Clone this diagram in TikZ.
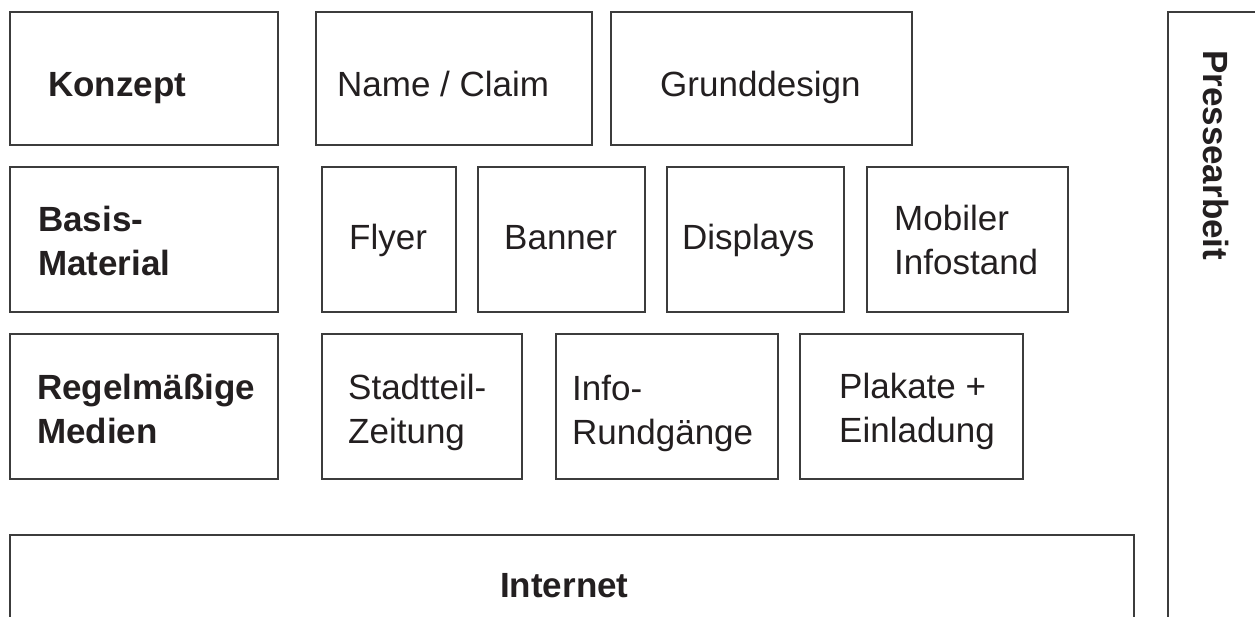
\documentclass[tikz,border=0pt]{standalone}
\usepackage{fontspec}
\setmainfont{Liberation Sans}
\definecolor{linec}{HTML}{3C3C3C}
\definecolor{txtc}{HTML}{231F20}
\begin{document}
\begin{tikzpicture}[x=1pt,y=-1pt,
  box/.style={draw=linec, line width=1.6pt, inner sep=0pt},
  lbl/.style={anchor=base west, inner sep=0pt, align=left, text=txtc, font=\fontsize{35}{44}\selectfont},
  blbl/.style={lbl, font=\fontsize{35}{44}\selectfont\bfseries}]
\useasboundingbox (0,0) rectangle (1255,617);
\clip (0,0) rectangle (1255,617);
% row 1
\node[box, minimum width=268, minimum height=133] (konzept) at (144,78.5) {};
\node[box, minimum width=276, minimum height=133] (name) at (454,78.5) {};
\node[box, minimum width=301, minimum height=133] (grund) at (761.5,78.5) {};
% row 2
\node[box, minimum width=268, minimum height=145] (basis) at (144,239.5) {};
\node[box, minimum width=134, minimum height=145] (flyer) at (389,239.5) {};
\node[box, minimum width=167, minimum height=145] (banner) at (561.5,239.5) {};
\node[box, minimum width=177, minimum height=145] (displays) at (755.5,239.5) {};
\node[box, minimum width=201, minimum height=145] (mobil) at (967.5,239.5) {};
% row 3
\node[box, minimum width=268, minimum height=145] (regel) at (144,406.5) {};
\node[box, minimum width=200, minimum height=145] (stadt) at (422,406.5) {};
\node[box, minimum width=222, minimum height=145] (info) at (667,406.5) {};
\node[box, minimum width=223, minimum height=145] (plakat) at (911.5,406.5) {};
% bottom and side
\node[box, minimum width=1124, minimum height=125] (internet) at (572,597.5) {};
\node[box, minimum width=152, minimum height=668] (presse) at (1244,346) {};
% labels (multi-line labels anchored at the baseline of their last line)
\node[blbl] (konzept-t) at (48,97) {Konzept};
\node[lbl] (name-t) at (337,97) {Name / Claim};
\node[lbl] (grund-t) at (660,97) {Grunddesign};
\node[blbl] (basis-t) at (38,276) {Basis-\\Material};
\node[lbl] (flyer-t) at (349,250) {Flyer};
\node[lbl] (banner-t) at (504,250) {Banner};
\node[lbl] (displays-t) at (682,250) {Displays};
\node[lbl] (mobil-t) at (894,275) {Mobiler\\Infostand};
\node[blbl] (regel-t) at (37,443) {Regelmäßige\\Medien};
\node[lbl] (stadt-t) at (348,443) {Stadtteil-\\Zeitung};
\node[lbl] (info-t) at (572,444) {Info-\\Rundgänge};
\node[lbl] (plakat-t) at (839,442) {Plakate +\\Einladung};
\node[blbl] (internet-t) at (500,597) {Internet};
\node[blbl, rotate=-90] (presse-t) at (1203,50) {Pressearbeit};
\end{tikzpicture}
\end{document}
